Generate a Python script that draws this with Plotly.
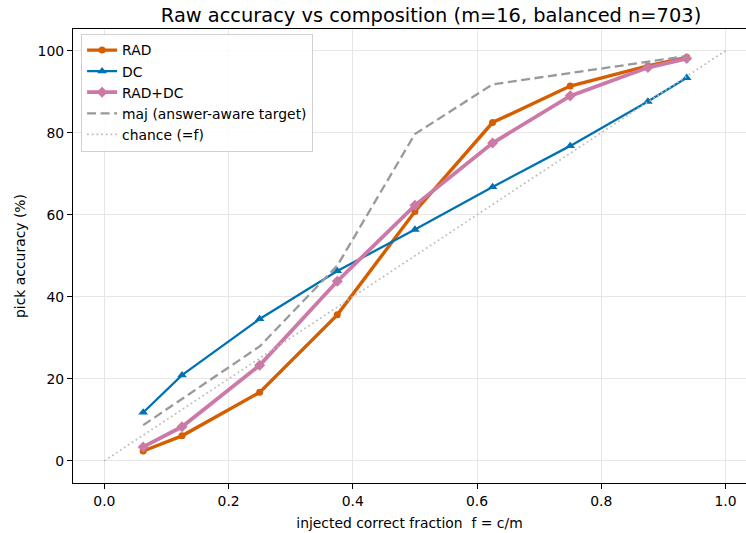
import plotly.graph_objects as go

f_vals = [0.0625, 0.125, 0.25, 0.375, 0.5, 0.625, 0.75, 0.875, 0.9375]
rad = [2.4, 6.1, 16.7, 35.6, 60.8, 82.5, 91.4, 96.3, 98.4]
dc = [11.8, 20.9, 34.6, 46.3, 56.4, 66.8, 76.8, 87.6, 93.4]
rad_dc = [3.4, 8.3, 23.3, 43.8, 62.3, 77.5, 89.0, 95.9, 98.1]
maj = [8.7, 15.1, 27.9, 47.6, 79.7, 91.8, 94.6, 97.3, 98.7]
chance_x = [0.0, 1.0]
chance_y = [0.0, 100.0]

x_ticks = [0.0, 0.2, 0.4, 0.6, 0.8, 1.0]
x_tick_labels = ["0.0", "0.2", "0.4", "0.6", "0.8", "1.0"]
y_ticks = [0, 20, 40, 60, 80, 100]

FONT = "DejaVu Sans"
FS = 13.9

fig = go.Figure()
fig.add_trace(go.Scatter(x=f_vals, y=rad, name="RAD", mode="lines+markers", legendgroup="a",
                         line=dict(color="#d55e00", width=3.4),
                         marker=dict(symbol="circle", size=7, color="#d55e00")))
fig.add_trace(go.Scatter(x=f_vals, y=dc, name="DC", mode="lines+markers", legendgroup="b",
                         line=dict(color="#0072b2", width=2.3),
                         marker=dict(symbol="triangle-up", size=8.5, color="#0072b2")))
fig.add_trace(go.Scatter(x=f_vals, y=rad_dc, name="RAD+DC", mode="lines+markers", legendgroup="c",
                         line=dict(color="#cc79a7", width=3.8),
                         marker=dict(symbol="diamond", size=8.5, color="#cc79a7")))
fig.add_trace(go.Scatter(x=f_vals, y=maj, name="maj (answer-aware target)", mode="lines",
                         legendgroup="d",
                         line=dict(color="#999999", width=2.3, dash="9px,4.5px")))
fig.add_trace(go.Scatter(x=chance_x, y=chance_y, name="chance (=f)", mode="lines",
                         legendgroup="e",
                         line=dict(color="#bbbbbb", width=1.7, dash="1.7px,3px")))

fig.update_layout(
    width=746, height=533,
    margin=dict(l=73, r=0, t=29, b=50),
    paper_bgcolor="white", plot_bgcolor="white",
    font=dict(family=FONT, size=FS, color="black"),
    title=dict(text="Raw accuracy vs composition (m=16, balanced n=703)",
               x=0.532, xref="paper", xanchor="center",
               y=1 - 15.5 / 533, yref="container", yanchor="middle",
               font=dict(family=FONT, size=19.4, color="black")),
    showlegend=True,
    legend=dict(x=0.012, y=0.99, xanchor="left", yanchor="top",
                bgcolor="rgba(255,255,255,0.85)", bordercolor="#d0d0d0", borderwidth=1,
                font=dict(family=FONT, size=FS, color="black"),
                itemwidth=30, tracegroupgap=0),
)
fig.update_xaxes(
    range=[-0.0505, 1.033], tickvals=x_ticks, ticktext=x_tick_labels,
    showgrid=True, gridcolor="#e6e6e6", gridwidth=1, zeroline=False,
    showline=True, linecolor="black", linewidth=1.2, mirror=True,
    ticks="outside", ticklen=5, tickcolor="black",
    tickfont=dict(family=FONT, size=FS),
    title=dict(text="injected correct fraction \u00a0f = c/m", standoff=10,
               font=dict(family=FONT, size=FS)),
)
fig.update_yaxes(
    range=[-5.4, 105.3], tickvals=y_ticks,
    showgrid=True, gridcolor="#e6e6e6", gridwidth=1, zeroline=False,
    showline=True, linecolor="black", linewidth=1.2, mirror=False,
    ticks="outside", ticklen=5, tickcolor="black",
    tickfont=dict(family=FONT, size=FS),
    title=dict(text="pick accuracy (%)", standoff=8,
               font=dict(family=FONT, size=FS)),
)

fig.write_html("out.html")
